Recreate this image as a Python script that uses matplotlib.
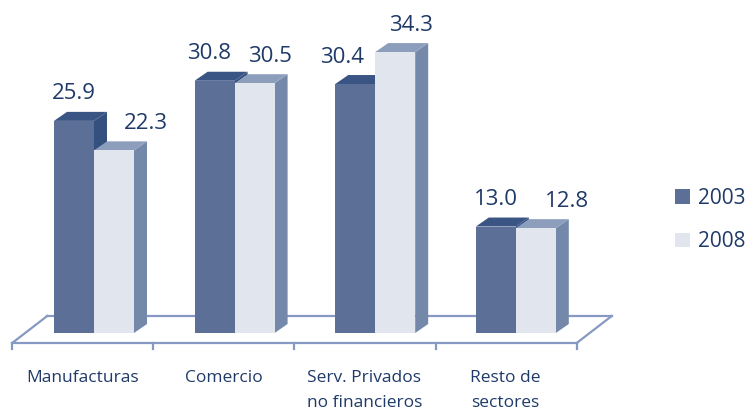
# -*- coding: utf-8 -*-
"""
Pseudo-3D clustered bar chart: share by sector, 2003 vs 2008.
"""

import matplotlib
matplotlib.use("Agg")
import matplotlib.pyplot as plt
from matplotlib.patches import Polygon, Patch

plt.rcParams["font.family"] = ["Open Sans", "DejaVu Sans"]

categories = ["Manufacturas", "Comercio", "Serv. Privados\nno financieros", "Resto de\nsectores"]
series_names = ["2003", "2008"]
values_2003 = [25.9, 30.8, 30.4, 13.0]
values_2008 = [22.3, 30.5, 34.3, 12.8]

# label nudges (pixels) to mimic the original label placement
label_dx_2003 = [0, -6, -13, 0]
label_dx_2008 = [32, 15, 16, 31]

TEXT = "#1F3A68"
COLORS = {
    "2003": {"front": "#5C7097", "top": "#3A5584", "side": "#34507F"},
    "2008": {"front": "#E1E5EE", "top": "#8D9DBC", "side": "#7488AA"},
}
FLOOR = "#8599C2"

W, H = 751, 411
PX_X = 140.6          # pixels per category
PX_Y = 8.19           # pixels per value unit
X0, Y0 = 94, 333      # pixel position of category 0 / value 0

fig = plt.figure(figsize=(W / 100, H / 100), dpi=100)
ax = fig.add_axes([0, 0, 1, 1])
ax.set_xlim(-X0 / PX_X, (W - X0) / PX_X)
ax.set_ylim((Y0 - H) / PX_Y, Y0 / PX_Y)
ax.axis("off")

bar_w = 40 / PX_X
ddx, ddy = 13 / PX_X, 9 / PX_Y          # bar depth
fdx, fdy = 11.5 / PX_X, 10 / PX_Y       # bars sit this far behind floor front
bdx, bdy = 35 / PX_X, 27 / PX_Y         # full floor depth

# floor
n = len(categories)
fl = -0.5 - fdx
fr = n - 0.5 - fdx + 0.015
fy = -fdy
ax.plot([fl + bdx, fr + bdx], [fy + bdy, fy + bdy], color=FLOOR, lw=1.6, zorder=1)
ax.plot([fl, fl + bdx], [fy, fy + bdy], color=FLOOR, lw=1.6, zorder=1)
ax.plot([fr, fr + bdx], [fy, fy + bdy], color=FLOOR, lw=1.6, zorder=1)
ax.plot([fl, fr], [fy, fy], color=FLOOR, lw=1.6, zorder=1)
for i in range(n + 1):
    tx = fl + i * (fr - fl) / n
    ax.plot([tx, tx], [fy, fy - 6 / PX_Y], color=FLOOR, lw=1.6, zorder=1)


def draw_bar(x0, h, c, z):
    x1 = x0 + bar_w
    front = Polygon([(x0, 0), (x1, 0), (x1, h), (x0, h)], closed=True,
                    facecolor=c["front"], edgecolor="none", zorder=z)
    top = Polygon([(x0, h), (x1, h), (x1 + ddx, h + ddy), (x0 + ddx, h + ddy)],
                  closed=True, facecolor=c["top"], edgecolor="none", zorder=z)
    side = Polygon([(x1, 0), (x1 + ddx, ddy), (x1 + ddx, h + ddy), (x1, h)],
                   closed=True, facecolor=c["side"], edgecolor="none", zorder=z)
    for p in (side, top, front):
        ax.add_patch(p)


for i in range(n):
    draw_bar(i - bar_w, values_2003[i], COLORS["2003"], 2)
    draw_bar(i, values_2008[i], COLORS["2008"], 3)
    ax.text(i - bar_w / 2 + label_dx_2003[i] / PX_X, values_2003[i] + 27 / PX_Y,
            f"{values_2003[i]:.1f}", ha="center", va="center", fontsize=16, color=TEXT)
    ax.text(i + bar_w / 2 + label_dx_2008[i] / PX_X, values_2008[i] + 27 / PX_Y,
            f"{values_2008[i]:.1f}", ha="center", va="center", fontsize=16, color=TEXT)
    ax.text(i - 11 / PX_X, -37 / PX_Y, categories[i], ha="center", va="top",
            fontsize=12.5, color=TEXT, linespacing=1.75)

handles = [Patch(facecolor=COLORS[s]["front"], edgecolor="none") for s in series_names]
ax.legend(handles, series_names, loc="center left", bbox_to_anchor=(675 / W, 1 - 220 / H),
          frameon=False, fontsize=15, labelcolor=TEXT, handlelength=0.7, handleheight=0.7,
          handletextpad=0.4, labelspacing=1.1, borderpad=0, borderaxespad=0)

fig.savefig("out.png", dpi=100)
plt.close(fig)
